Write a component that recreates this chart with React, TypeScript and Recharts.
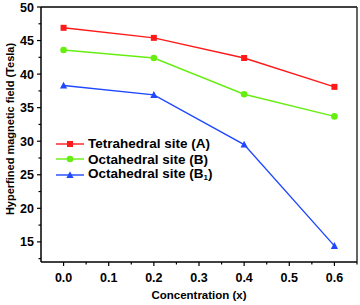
import {
  Line,
  LineChart,
  ReferenceLine,
  XAxis,
  YAxis,
} from 'recharts'

const concentrations = [0.0, 0.2, 0.4, 0.6]
const tetrahedralA = [46.9, 45.4, 42.4, 38.1]
const octahedralB = [43.6, 42.4, 37.0, 33.7]
const octahedralB1 = [38.3, 36.9, 29.5, 14.4]

const xTicks = [0, 0.05, 0.1, 0.15, 0.2, 0.25, 0.3, 0.35, 0.4, 0.45, 0.5, 0.55, 0.6, 0.65]
const yTicks = [12.5, 15, 17.5, 20, 22.5, 25, 27.5, 30, 32.5, 35, 37.5, 40, 42.5, 45, 47.5, 50]

const data = concentrations.map((x, i) => ({
  x,
  a: tetrahedralA[i],
  b: octahedralB[i],
  b1: octahedralB1[i],
}))

const FONT = '"Liberation Sans", Arial, sans-serif'
const RED = '#ff1a1a'
const GREEN = '#66ee11'
const BLUE = '#1f48ff'

function XTick({ x, y, payload }: any) {
  const v = payload.value
  const major = Math.round(v * 100) % 10 === 0
  return (
    <g>
      <line x1={x} y1={y} x2={x} y2={y + (major ? 4 : 2.5)} stroke="#000" strokeWidth={1.2} />
      {major && (
        <text x={x} y={y + 19.5} textAnchor="middle" fontSize={12.5} fontWeight="bold" fontFamily={FONT} fill="#000">
          {v.toFixed(1)}
        </text>
      )}
    </g>
  )
}

function YTick({ x, y, payload }: any) {
  const v = payload.value
  const major = v % 5 === 0
  return (
    <g>
      <line x1={x} y1={y} x2={x - (major ? 4 : 2.5)} y2={y} stroke="#000" strokeWidth={1.2} />
      {major && (
        <text x={x - 7} y={y + 4.5} textAnchor="end" fontSize={12.5} fontWeight="bold" fontFamily={FONT} fill="#000">
          {v}
        </text>
      )}
    </g>
  )
}

function YTitle() {
  return (
    <text
      x={10}
      y={129}
      transform="rotate(-90 10 129)"
      textAnchor="middle"
      dominantBaseline="central"
      fontSize={11}
      fontWeight="bold"
      fontFamily={FONT}
      fill="#000"
    >
      Hyperfined magnetic field (Tesla)
    </text>
  )
}

function Marker({ shape, color }: { shape: string; color: string }) {
  return (
    <svg width={28} height={10} style={{ verticalAlign: 'middle', flexShrink: 0 }}>
      <line x1={0} y1={5} x2={28} y2={5} stroke={color} strokeWidth={1.4} />
      {shape === 'square' && <rect x={11} y={2} width={6} height={6} fill={color} />}
      {shape === 'circle' && <circle cx={14} cy={5} r={3.3} fill={color} />}
      {shape === 'triangle' && <path d="M14 1.2 L17.6 8 L10.4 8 Z" fill={color} />}
    </svg>
  )
}

function LegendBox() {
  const row = { display: 'flex', alignItems: 'center', height: 15.5, whiteSpace: 'nowrap' as const }
  const label = { marginLeft: 4, fontSize: 13.5, fontWeight: 'bold' as const, fontFamily: FONT, color: '#000' }
  return (
    <div style={{ position: 'absolute', left: 56, top: 136, lineHeight: 1 }}>
      <div style={row}>
        <Marker shape="square" color={RED} />
        <span style={label}>Tetrahedral site (A)</span>
      </div>
      <div style={row}>
        <Marker shape="circle" color={GREEN} />
        <span style={label}>Octahedral site (B)</span>
      </div>
      <div style={row}>
        <Marker shape="triangle" color={BLUE} />
        <span style={label}>
          Octahedral site (B<sub style={{ fontSize: 8, verticalAlign: -2 }}>1</sub>)
        </span>
      </div>
    </div>
  )
}

export default function App() {
  return (
    <div style={{ position: 'absolute', left: 0, top: 0, width: 360, height: 305, background: '#fff' }}>
      <LineChart width={360} height={305} data={data} margin={{ top: 7, right: 3, bottom: 0, left: 0 }}>
        <XAxis
          dataKey="x"
          type="number"
          domain={[-0.05, 0.65]}
          ticks={xTicks}
          interval={0}
          tick={<XTick />}
          tickLine={false}
          tickSize={0}
          tickMargin={0}
          height={43}
          axisLine={{ stroke: '#000', strokeWidth: 1.5 }}
          label={{
            value: 'Concentration (x)',
            position: 'insideBottom',
            offset: 6,
            fontSize: 11.5,
            fontWeight: 'bold',
            fontFamily: FONT,
            fill: '#000',
          }}
        />
        <YAxis
          type="number"
          domain={[12, 50]}
          ticks={yTicks}
          interval={0}
          tick={<YTick />}
          tickLine={false}
          tickSize={0}
          tickMargin={0}
          width={41}
          axisLine={{ stroke: '#000', strokeWidth: 1.5 }}
          label={<YTitle />}
        />
        <ReferenceLine y={50} stroke="#000" strokeWidth={1.5} />
        <ReferenceLine x={0.65} stroke="#333" strokeWidth={1.5} />
        <Line
          dataKey="a"
          stroke={RED}
          strokeWidth={1.4}
          isAnimationActive={false}
          dot={(p: any) => <rect key={p.index} x={p.cx - 3} y={p.cy - 3} width={6} height={6} fill={RED} />}
        />
        <Line
          dataKey="b"
          stroke={GREEN}
          strokeWidth={1.4}
          isAnimationActive={false}
          dot={(p: any) => <circle key={p.index} cx={p.cx} cy={p.cy} r={3.3} fill={GREEN} />}
        />
        <Line
          dataKey="b1"
          stroke={BLUE}
          strokeWidth={1.4}
          isAnimationActive={false}
          dot={(p: any) => (
            <path
              key={p.index}
              d={`M${p.cx} ${p.cy - 3.8} L${p.cx + 3.6} ${p.cy + 3} L${p.cx - 3.6} ${p.cy + 3} Z`}
              fill={BLUE}
            />
          )}
        />
      </LineChart>
      <LegendBox />
    </div>
  )
}
